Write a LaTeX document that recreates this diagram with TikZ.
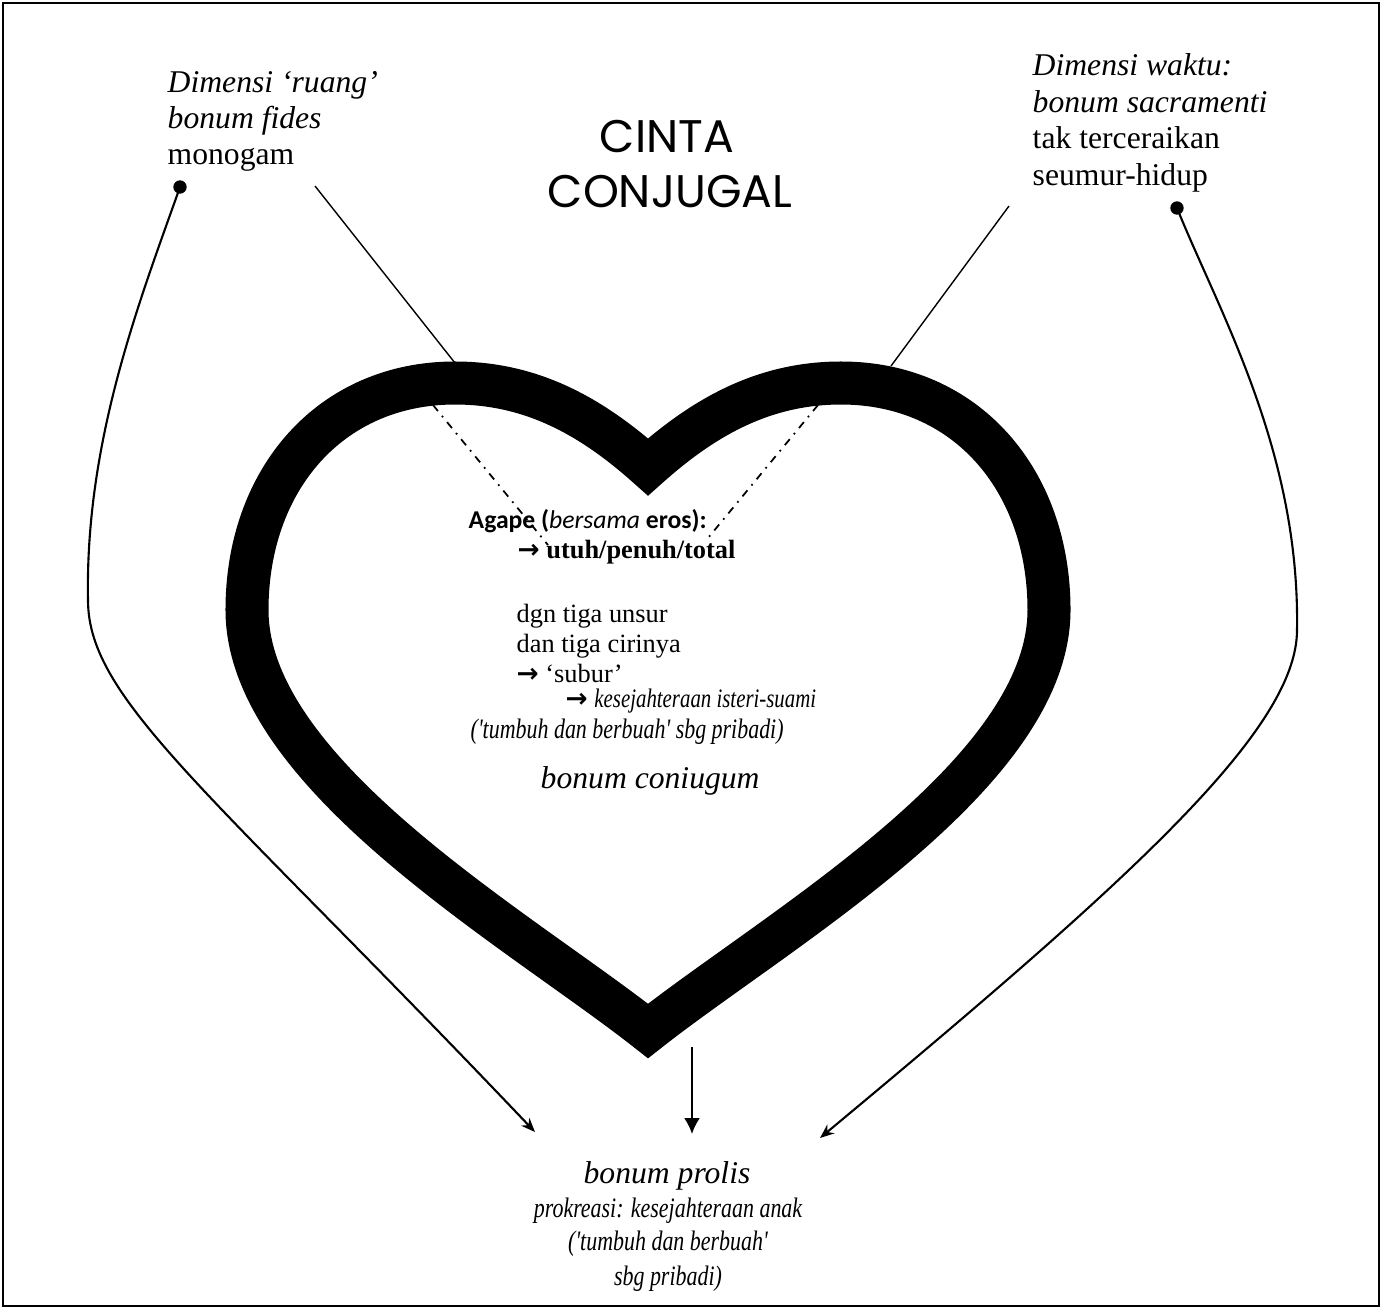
\documentclass[tikz,border=0pt]{standalone}
\usepackage{fontspec}
\usetikzlibrary{arrows.meta}
\setmainfont{Liberation Serif}
\newfontfamily\handfont[FakeStretch=0.78]{Liberation Serif Italic}
\newfontfamily\titlefont{Poppins}
\newfontfamily\calfont{Carlito}
\newfontfamily\arrfont{DejaVu Sans}
\newcommand{\barrow}{{\arrfont\bfseries →}}

\tikzset{
  txt/.style={anchor=base west, inner sep=0pt},
  side/.style={txt, font=\fontsize{9}{11}\selectfont},
  mid/.style={txt, font=\fontsize{7.5}{9}\selectfont},
  hand/.style={txt, font=\handfont\fontsize{8}{10}\selectfont},
  dot/.style={circle, fill, inner sep=0pt, minimum size=3.8pt},
  curvearrow/.style={line width=0.6pt, -{Stealth[length=4pt,width=3.2pt]}},
  dashdot/.style={line width=0.5pt, dash pattern=on 2.2pt off 1.8pt on 0.5pt off 1.8pt}
}

\begin{document}
\begin{tikzpicture}[x=0.01cm, y=-0.01cm]
        \useasboundingbox (0,0) rectangle (1382,1309);
        \draw[line width=0.8pt] (3,3) rectangle (1379,1306);

        % heart
        \draw[line width=0.43cm, line join=miter] (648,467)
          .. controls (590,415) and (530,383) .. (455,383)
          .. controls (330,383) and (247,480) .. (247,610)
          .. controls (247,775) and (520,930) .. (648,1031)
          .. controls (776,930) and (1049,775) .. (1049,610)
          .. controls (1049,480) and (966,383) .. (841,383)
          .. controls (766,383) and (706,415) .. cycle;

        % title
        \node[anchor=base, inner sep=0pt, font=\titlefont\fontsize{13}{16}\selectfont] (cinta) at (667,152) {CINTA};
        \node[anchor=base, inner sep=0pt, font=\titlefont\fontsize{13}{16}\selectfont] (conjugal) at (670,207) {CONJUGAL};

        % left label
        \node[side] (ruang) at (167,92) {\textit{Dimensi `ruang'}};
        \node[side] (fides) at (167,128) {\textit{bonum fides}};
        \node[side] (monogam) at (167,164) {monogam};

        % right label
        \node[side] (waktu) at (1032,75) {\textit{Dimensi waktu:}};
        \node[side] (sacr) at (1032,112) {\textit{bonum sacramenti}};
        \node[side] (cerai) at (1032,148) {tak terceraikan};
        \node[side] (hidup) at (1032,185) {seumur-hidup};

        % inside the heart
        \node[txt, font=\calfont\fontsize{7.3}{9}\selectfont] (agape) at (468,528) {\textbf{Agape (}\textit{bersama} \textbf{eros):}};
        \node[mid] (utuh) at (517,558) {\barrow\ \textbf{utuh/penuh/total}};
        \node[mid] (unsur) at (516,622) {dgn tiga unsur};
        \node[mid] (ciri) at (516,652) {dan tiga cirinya};
        \node[mid] (subur) at (516,682) {\barrow\ `subur'};
        \node[mid] (sejahtera) at (565,707) {\barrow\ {\handfont\fontsize{7.6}{10}\selectfont kesejahteraan isteri-suami}};
        \node[hand] (tumbuh) at (470,738) {('tumbuh dan berbuah' sbg pribadi)};
        \node[txt, font=\fontsize{9}{11}\selectfont\itshape] (coniugum) at (540,788) {bonum coniugum};

        % bottom
        \node[anchor=base, inner sep=0pt, font=\fontsize{9}{11}\selectfont\itshape] (prolis) at (667,1183) {bonum prolis};
        \node[hand, anchor=base] (prokreasi) at (668,1217) {prokreasi: kesejahteraan anak};
        \node[hand, anchor=base] (tumbuhb) at (668,1250) {('tumbuh dan berbuah'};
        \node[hand, anchor=base] (pribadi) at (668,1285) {sbg pribadi)};

        % connectors
        \coordinate (fidesEnd) at (315,186);
        \coordinate (fidesHit) at (455,363);
        \coordinate (sacrEnd) at (1009,206);
        \coordinate (sacrHit) at (891,366);
        \draw[line width=0.4pt] (fidesEnd) -- (fidesHit);
        \draw[line width=0.4pt] (sacrEnd) -- (sacrHit);

        \coordinate (inL) at (433,405);
        \coordinate (inLend) at (548,545);
        \coordinate (inR) at (818,405);
        \coordinate (inRend) at (708,538);
        \draw[dashdot] (inL) -- (inLend);
        \draw[dashdot] (inR) -- (inRend);

        \node[dot] (dotL) at (180,187) {};
        \node[dot] (dotR) at (1177,208) {};
        \coordinate (tipL) at (535,1132);
        \coordinate (tipR) at (820,1138);
        \draw[curvearrow] (dotL.center) .. controls (140,300) and (85,440) .. (88,600)
          .. controls (88,700) and (210,790) .. (tipL);
        \draw[curvearrow] (dotR.center) .. controls (1218,310) and (1300,450) .. (1297,630)
          .. controls (1297,730) and (1130,880) .. (tipR);

        \coordinate (downS) at (692,1047);
        \coordinate (downE) at (692,1134);
        \draw[line width=0.6pt, -{Latex[length=4.5pt,width=4.5pt]}] (downS) -- (downE);
\end{tikzpicture}
\end{document}
